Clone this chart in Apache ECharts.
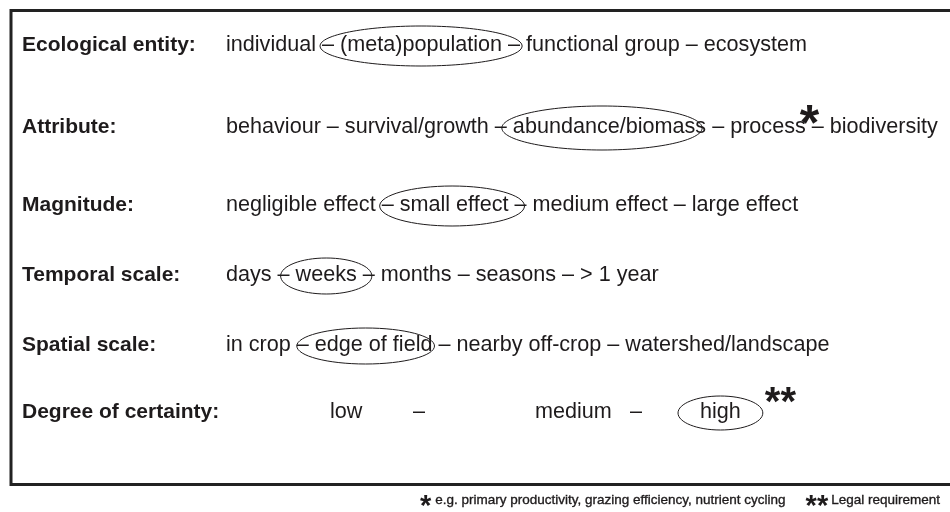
<!DOCTYPE html>
<html><head><meta charset="utf-8">
<script src="https://cdn.jsdelivr.net/npm/echarts@6/dist/echarts.min.js"></script>
<style>html,body{margin:0;padding:0;background:#fff}#c{width:950px;height:512px}</style>
</head><body><div id="c"></div>
<script>
// ---- data ----
const rowLabels = ['Ecological entity:', 'Attribute:', 'Magnitude:', 'Temporal scale:', 'Spatial scale:', 'Degree of certainty:'];
const rowItems = [
  ['individual', '(meta)population', 'functional group', 'ecosystem'],
  ['behaviour', 'survival/growth', 'abundance/biomass', 'process', 'biodiversity'],
  ['negligible effect', 'small effect', 'medium effect', 'large effect'],
  ['days', 'weeks', 'months', 'seasons', '> 1 year'],
  ['in crop', 'edge of field', 'nearby off-crop', 'watershed/landscape'],
  ['low', 'medium', 'high']
];
const selectedItem = [1, 2, 1, 1, 1, 2];
const starredItem = [null, [3, '*'], null, null, null, [2, '**']];
const footnotes = ['*', 'e.g. primary productivity, grazing efficiency, nutrient cycling', '**', 'Legal requirement'];

// ---- layout ----
const rowY = [45, 127, 205, 275, 345, 412];
const labelX = 22;
const textX = 226;
const lastRowItemX = [330, 535, 700];
const lastRowDashX = [413, 630];
const ellipseAdj = [[2, 2], [-7, -22], [2, -2], [-3, -3], [0, -16], [22, 22]];
const ellipseRy = [20, 22, 20, 18, 18, 17];
const FS = 21.6;
const FAM = '"Liberation Sans", Arial, sans-serif';
const FONT = FS + 'px ' + FAM;
const BFONT = 'bold 21px ' + FAM;
const COL = '#1e1b1c';
const FNFONT = '13.5px ' + FAM;
const FNSTAR = 'bold 29px ' + FAM;

const cv = document.createElement('canvas').getContext('2d');
function tw(t, f) { cv.font = f; return cv.measureText(t).width; }

function renderItem(params, api) {
  const r = api.value(0);
  const P = (x, y) => api.coord([x, y]);
  const y = P(0, rowY[r])[1];
  const ch = [];
  ch.push({ type: 'text', style: { text: rowLabels[r], x: P(labelX, 0)[0], y: y, font: BFONT, fill: COL, verticalAlign: 'middle' } });
  const items = rowItems[r];
  const dash = '–';
  const dw = tw(dash, FONT), sw = tw(' ', FONT);
  const itemPos = [], dashPos = [];
  let x = P(textX, 0)[0];
  for (let i = 0; i < items.length; i++) {
    if (r === 5) x = P(lastRowItemX[i], 0)[0];
    const w = tw(items[i], FONT);
    itemPos.push([x, x + w]);
    ch.push({ type: 'text', style: { text: items[i], x: x, y: y, font: FONT, fill: COL, verticalAlign: 'middle' } });
    x += w;
    if (i < items.length - 1) {
      let dx = x + sw;
      if (r === 5) dx = P(lastRowDashX[i], 0)[0];
      dashPos.push([dx, dx + dw]);
      ch.push({ type: 'text', style: { text: dash, x: dx, y: y, font: FONT, fill: COL, verticalAlign: 'middle' } });
      x = dx + dw + sw;
    }
  }
  const s = selectedItem[r];
  let L, R;
  if (r === 5) { L = itemPos[s][0] - ellipseAdj[r][0]; R = itemPos[s][1] + ellipseAdj[r][1]; }
  else { L = dashPos[s - 1][0] - ellipseAdj[r][0]; R = dashPos[s][1] + ellipseAdj[r][1]; }
  ch.push({ type: 'ellipse', shape: { cx: (L + R) / 2, cy: y + 1, rx: (R - L) / 2, ry: ellipseRy[r] }, style: { fill: 'none', stroke: COL, lineWidth: 1 } });
  const st = starredItem[r];
  if (st) {
    if (r === 5) {
      ch.push({ type: 'text', style: { text: st[1], x: R + 2, y: y - 8, font: 'bold 40px ' + FAM, fill: COL, verticalAlign: 'middle' } });
    } else {
      ch.push({ type: 'text', style: { text: st[1], x: itemPos[st[0]][1] - 6, y: y - 1, font: 'bold 50px ' + FAM, fill: COL, verticalAlign: 'middle' } });
    }
  }
  return { type: 'group', children: ch };
}

// footnote layout, right-aligned to 940
const fnRight = 940, fnY = 500;
const wLR = tw(footnotes[3], FNFONT), wS2 = tw(footnotes[2], FNSTAR), wT1 = tw(footnotes[1], FNFONT), wS1 = tw(footnotes[0], FNSTAR);
const xLR = fnRight - wLR;
const xS2 = xLR - 3 - wS2;
const xT1 = xS2 - 20 - wT1;
const xS1 = xT1 - 4 - wS1;
const fnStyle = (t, f, x, yy) => ({ type: 'text', x: x, y: yy, style: { text: t, font: f, fill: COL, stroke: COL, lineWidth: f === FNFONT ? 0.35 : 0, verticalAlign: 'middle' } });

const chart = echarts.init(document.getElementById('c'), null, { renderer: 'canvas' });
chart.setOption({
  animation: false,
  grid: { left: 0, right: 0, top: 0, bottom: 0 },
  xAxis: { type: 'value', min: 0, max: 950, show: false },
  yAxis: { type: 'value', min: 0, max: 512, inverse: true, show: false },
  graphic: [
    { type: 'polyline', shape: { points: [[951, 10.5], [11, 10.5], [11, 484.5], [951, 484.5]] }, style: { fill: 'none', stroke: '#222', lineWidth: 3 } },
    fnStyle(footnotes[0], FNSTAR, xS1, fnY + 7),
    fnStyle(footnotes[1], FNFONT, xT1, fnY),
    fnStyle(footnotes[2], FNSTAR, xS2, fnY + 7),
    fnStyle(footnotes[3], FNFONT, xLR, fnY)
  ],
  series: [{
    type: 'custom',
    renderItem: renderItem,
    data: rowLabels.map((_, i) => [i]),
    encode: { x: -1, y: -1 },
    clip: false
  }]
});
</script></body></html>
